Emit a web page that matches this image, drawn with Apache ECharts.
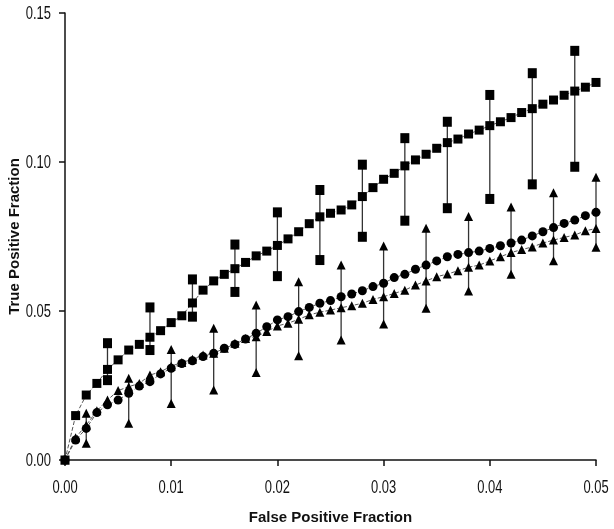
<!DOCTYPE html>
<html>
<head>
<meta charset="utf-8">
<script src="https://cdn.jsdelivr.net/npm/echarts@6/dist/echarts.min.js"></script>
<style>
html, body { margin: 0; padding: 0; background: #fff; }
#roc { width: 614px; height: 529px; }
</style>
</head>
<body>
<div id="roc"></div>
<script>
// false positive fraction, one point every 0.001
var fpf = [0, 0.001, 0.002, 0.003, 0.004, 0.005, 0.006, 0.007, 0.008, 0.009,
    0.010, 0.011, 0.012, 0.013, 0.014, 0.015, 0.016, 0.017, 0.018, 0.019,
    0.020, 0.021, 0.022, 0.023, 0.024, 0.025, 0.026, 0.027, 0.028, 0.029,
    0.030, 0.031, 0.032, 0.033, 0.034, 0.035, 0.036, 0.037, 0.038, 0.039,
    0.040, 0.041, 0.042, 0.043, 0.044, 0.045, 0.046, 0.047, 0.048, 0.049, 0.050];

// upper curve (squares)
var tpfSquare = [0, 0.0149, 0.0218, 0.0257, 0.0304, 0.0336, 0.0369, 0.0388, 0.0412, 0.0434,
    0.0461, 0.0484, 0.0527, 0.0570, 0.0601, 0.0623, 0.0642, 0.0663, 0.0685, 0.0701,
    0.0720, 0.0742, 0.0766, 0.0793, 0.0816, 0.0828, 0.0839, 0.0856, 0.0884, 0.0914,
    0.0942, 0.0962, 0.0987, 0.1007, 0.1026, 0.1046, 0.1065, 0.1077, 0.1094, 0.1107,
    0.1122, 0.1135, 0.1149, 0.1166, 0.1179, 0.1194, 0.1208, 0.1224, 0.1238, 0.1251, 0.1267];

// middle curve (circles)
var tpfCircle = [0, 0.0067, 0.0106, 0.0159, 0.0185, 0.0201, 0.0224, 0.0248, 0.0263, 0.0289,
    0.0308, 0.0324, 0.0333, 0.0347, 0.0358, 0.0375, 0.0388, 0.0406, 0.0425, 0.0447,
    0.0470, 0.0481, 0.0498, 0.0512, 0.0526, 0.0535, 0.0548, 0.0557, 0.0568, 0.0582,
    0.0593, 0.0612, 0.0623, 0.0640, 0.0654, 0.0668, 0.0682, 0.0690, 0.0696, 0.0701,
    0.0710, 0.0719, 0.0728, 0.0738, 0.0752, 0.0766, 0.0780, 0.0794, 0.0805, 0.0820, 0.0831];

// lower curve (triangles)
var tpfTriangle = [0, 0.0075, 0.0117, 0.0165, 0.0201, 0.0233, 0.0246, 0.0257, 0.0285, 0.0296,
    0.0315, 0.0327, 0.0338, 0.0352, 0.0358, 0.0375, 0.0392, 0.0408, 0.0414, 0.0431,
    0.0450, 0.0459, 0.0472, 0.0487, 0.0496, 0.0503, 0.0511, 0.0518, 0.0526, 0.0539,
    0.0548, 0.0559, 0.0570, 0.0587, 0.0601, 0.0615, 0.0624, 0.0635, 0.0647, 0.0654,
    0.0668, 0.0682, 0.0696, 0.0706, 0.0715, 0.0728, 0.0738, 0.0747, 0.0755, 0.0769, 0.0777];

// error bars
var barXSquare = [0.004, 0.008, 0.012, 0.016, 0.020, 0.024, 0.028, 0.032, 0.036, 0.040, 0.044, 0.048];
var barLoSquare = [0.0268, 0.0369, 0.0481, 0.0564, 0.0617, 0.0671, 0.0749, 0.0803, 0.0845, 0.0876, 0.0925, 0.0984];
var barHiSquare = [0.0392, 0.0512, 0.0606, 0.0723, 0.0831, 0.0906, 0.0991, 0.1080, 0.1135, 0.1225, 0.1298, 0.1373];

var barXTriangle = [0.002, 0.006, 0.010, 0.014, 0.018, 0.022, 0.026, 0.030, 0.034, 0.038, 0.042, 0.046, 0.050];
var barLoTriangle = [0.0056, 0.0123, 0.0190, 0.0235, 0.0294, 0.0350, 0.0403, 0.0456, 0.0509, 0.0567, 0.0623, 0.0669, 0.0714];
var barHiTriangle = [0.0157, 0.0274, 0.0371, 0.0442, 0.0520, 0.0598, 0.0654, 0.0718, 0.0778, 0.0817, 0.0849, 0.0897, 0.0949];

var xTicks = [0, 0.01, 0.02, 0.03, 0.04, 0.05];
var yTicks = [0, 0.05, 0.10, 0.15];

function pairs(xs, ys) {
    return xs.map(function (x, i) { return [x, ys[i]]; });
}
function bars(xs, lo, hi) {
    return xs.map(function (x, i) { return [x, lo[i], hi[i]]; });
}
function ends(xs, lo, hi) {
    return pairs(xs, lo).concat(pairs(xs, hi));
}

function renderBar(params, api) {
    var a = api.coord([api.value(0), api.value(1)]);
    var b = api.coord([api.value(0), api.value(2)]);
    return {
        type: 'line',
        shape: { x1: a[0], y1: a[1], x2: b[0], y2: b[1] },
        style: { stroke: '#333', lineWidth: 1.3 }
    };
}

var titleFont = { fontFamily: 'Liberation Sans, Arial, sans-serif', fontWeight: 'bold', fontSize: 15, color: '#111' };

var myChart = echarts.init(document.getElementById('roc'));
var option = {
    backgroundColor: '#fff',
    animation: false,
    grid: { left: 65, right: 18, top: 13, bottom: 69, containLabel: false, outerBoundsMode: 'none' },
    xAxis: {
        type: 'value',
        min: 0,
        max: 0.05,
        interval: 0.01,
        name: 'False Positive Fraction',
        nameLocation: 'middle',
        nameGap: 50,
        nameTextStyle: titleFont,
        axisLine: { lineStyle: { color: '#111', width: 1.5 } },
        axisTick: { show: true, length: 6, lineStyle: { color: '#111', width: 1.5 } },
        splitLine: { show: false },
        axisLabel: { show: false }
    },
    yAxis: {
        type: 'value',
        min: 0,
        max: 0.15,
        interval: 0.05,
        name: 'True Positive Fraction',
        nameLocation: 'middle',
        nameGap: 43,
        nameRotate: 90,
        nameTextStyle: titleFont,
        axisLine: { show: true, lineStyle: { color: '#111', width: 1.5 } },
        axisTick: { show: true, length: 6, lineStyle: { color: '#111', width: 1.5 } },
        splitLine: { show: false },
        axisLabel: { show: false }
    },
    series: [
        {
            type: 'custom',
            renderItem: renderBar,
            data: bars(barXTriangle, barLoTriangle, barHiTriangle),
            z: 1
        },
        {
            type: 'custom',
            renderItem: renderBar,
            data: bars(barXSquare, barLoSquare, barHiSquare),
            z: 1
        },
        {
            name: 'triangle',
            type: 'line',
            data: pairs(fpf, tpfTriangle),
            symbol: 'triangle',
            symbolSize: [9, 9],
            showAllSymbol: true,
            lineStyle: { color: '#555', width: 1, type: 'dashed' },
            itemStyle: { color: '#000', opacity: 1 },
            z: 2
        },
        {
            name: 'circle',
            type: 'line',
            data: pairs(fpf, tpfCircle),
            symbol: 'circle',
            symbolSize: 9,
            showAllSymbol: true,
            lineStyle: { color: '#555', width: 1, type: 'dashed' },
            itemStyle: { color: '#000', opacity: 1 },
            z: 3
        },
        {
            name: 'square',
            type: 'line',
            data: pairs(fpf, tpfSquare),
            symbol: 'rect',
            symbolSize: [9, 9],
            showAllSymbol: true,
            lineStyle: { color: '#555', width: 1, type: 'dashed' },
            itemStyle: { color: '#000', opacity: 1 },
            z: 4
        },
        {
            type: 'scatter',
            data: ends(barXTriangle, barLoTriangle, barHiTriangle),
            symbol: 'triangle',
            symbolSize: [9, 9],
            itemStyle: { color: '#000', opacity: 1 },
            z: 3
        },
        {
            type: 'scatter',
            data: ends(barXSquare, barLoSquare, barHiSquare),
            symbol: 'rect',
            symbolSize: [9, 10],
            itemStyle: { color: '#000', opacity: 1 },
            z: 4
        }
    ]
};
myChart.setOption(option);

// tick labels in a narrow face: placed at the axis' own tick positions, squeezed horizontally
var labelStyle = { font: '18px "Liberation Sans", Arial, sans-serif', fill: '#111', textVerticalAlign: 'middle' };
var tickLabels = [];
xTicks.forEach(function (v) {
    var p = myChart.convertToPixel({ gridIndex: 0 }, [v, 0]);
    tickLabels.push({
        type: 'text', x: p[0], y: p[1] + 28, scaleX: 0.72, silent: true,
        style: Object.assign({ text: v.toFixed(2), textAlign: 'center' }, labelStyle)
    });
});
yTicks.forEach(function (v) {
    var p = myChart.convertToPixel({ gridIndex: 0 }, [0, v]);
    tickLabels.push({
        type: 'text', x: p[0] - 14, y: p[1] + 1, scaleX: 0.72, silent: true,
        style: Object.assign({ text: v.toFixed(2), textAlign: 'right' }, labelStyle)
    });
});
myChart.setOption({ graphic: tickLabels });
</script>
</body>
</html>
